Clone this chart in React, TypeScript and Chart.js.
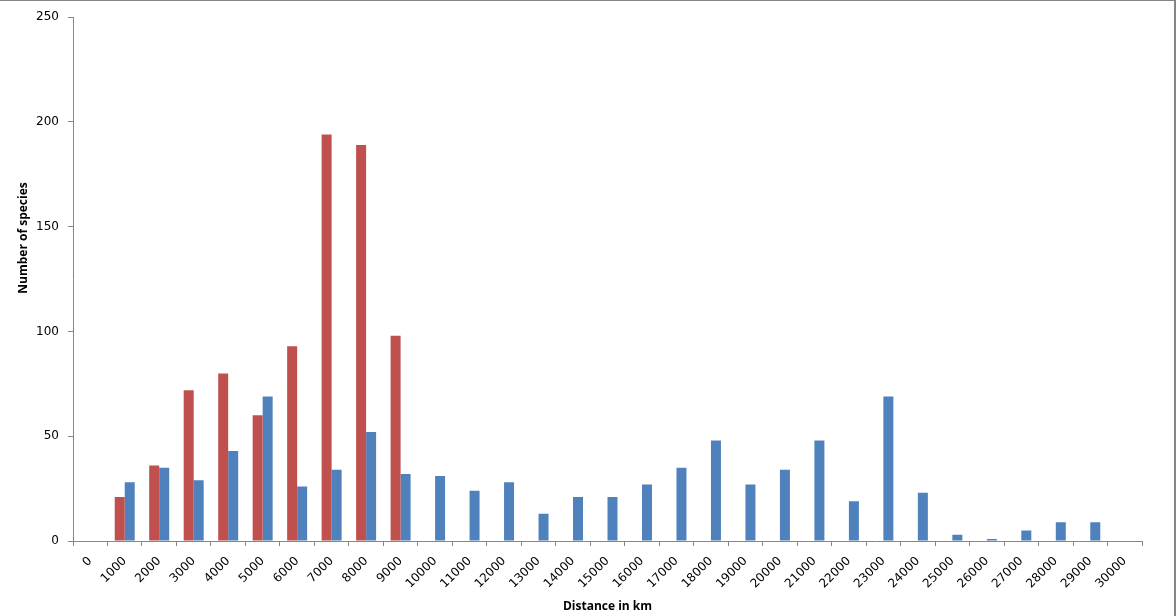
import React, { useEffect, useRef } from "react";
import { Chart, registerables } from "chart.js";

Chart.register(...registerables);

const categories = [
  "0", "1000", "2000", "3000", "4000", "5000", "6000", "7000", "8000", "9000",
  "10000", "11000", "12000", "13000", "14000", "15000", "16000", "17000", "18000", "19000",
  "20000", "21000", "22000", "23000", "24000", "25000", "26000", "27000", "28000", "29000", "30000",
];

const redSeries: (number | null)[] = [
  null, 21, 36, 72, 80, 60, 93, 194, 189, 98,
  null, null, null, null, null, null, null, null, null, null,
  null, null, null, null, null, null, null, null, null, null, null,
];

const blueSeries: (number | null)[] = [
  null, 28, 35, 29, 43, 69, 26, 34, 52, 32,
  31, 24, 28, 13, 21, 21, 27, 35, 48, 27,
  34, 48, 19, 69, 23, 3, 1, 5, 9, 9, null,
];

const yTicks = [0, 50, 100, 150, 200, 250];
const yTitle = "Number of species";
const xTitle = "Distance in km";

const yTitlePlugin = {
  id: "yTitlePlugin",
  afterDraw(chart: any) {
    const ctx = chart.ctx;
    ctx.save();
    ctx.translate(24, 237);
    ctx.rotate(-Math.PI / 2);
    ctx.font = "bold 12px 'Open Sans'";
    ctx.fillStyle = "#000000";
    ctx.textAlign = "center";
    ctx.textBaseline = "middle";
    ctx.fillText(yTitle, 0, 0);
    ctx.restore();
  },
};

export default function App() {
  const ref = useRef<HTMLCanvasElement | null>(null);

  useEffect(() => {
    if (!ref.current) return;
    const axisColor = "#868686";
    const chart = new Chart(ref.current, {
      type: "bar",
      data: {
        labels: categories,
        datasets: [
          {
            label: "Series 1",
            data: redSeries,
            backgroundColor: "#C0504D",
            categoryPercentage: 0.58,
            barPercentage: 1.0,
          },
          {
            label: "Series 2",
            data: blueSeries,
            backgroundColor: "#4F81BD",
            categoryPercentage: 0.58,
            barPercentage: 1.0,
          },
        ],
      },
      plugins: [yTitlePlugin],
      options: {
        animation: false,
        responsive: false,
        maintainAspectRatio: false,
        layout: { padding: { left: 0, top: 16, right: 32, bottom: 0 } },
        plugins: {
          legend: { display: false },
          tooltip: { enabled: false },
        },
        scales: {
          x: {
            offset: true,
            grid: {
              offset: true,
              drawOnChartArea: false,
              drawTicks: true,
              tickLength: 5,
              color: axisColor,
            },
            border: { display: true, color: axisColor, width: 1 },
            ticks: {
              autoSkip: false,
              maxRotation: 45,
              minRotation: 45,
              color: "#000000",
              font: { family: "DejaVu Sans", size: 12 },
              padding: 8,
            },
            title: {
              display: true,
              text: xTitle,
              color: "#000000",
              font: { family: "Open Sans", size: 12, weight: "bold" },
              padding: { top: 0, bottom: 2 },
            },
            afterFit: (scale: any) => {
              scale.height = 75;
            },
          },
          y: {
            min: 0,
            max: 250,
            afterBuildTicks: (scale: any) => {
              scale.ticks = yTicks.map((v) => ({ value: v }));
            },
            grid: {
              drawOnChartArea: false,
              drawTicks: true,
              tickLength: 5,
              color: axisColor,
            },
            border: { display: true, color: axisColor, width: 1 },
            ticks: {
              color: "#000000",
              font: { family: "DejaVu Sans", size: 12 },
              padding: 9,
            },
            afterFit: (scale: any) => {
              scale.width = 73;
            },
          },
        },
      },
    });
    return () => chart.destroy();
  }, []);

  return (
    <div
      style={{
        position: "fixed",
        left: 0,
        top: 0,
        width: 1176,
        height: 616,
        background: "#ffffff",
        boxSizing: "border-box",
        borderTop: "1px solid #868686",
        borderRight: "2px solid #868686",
      }}
    >
      <canvas
        ref={ref}
        width={1174}
        height={615}
        style={{ display: "block", width: 1174, height: 615 }}
      />
    </div>
  );
}
